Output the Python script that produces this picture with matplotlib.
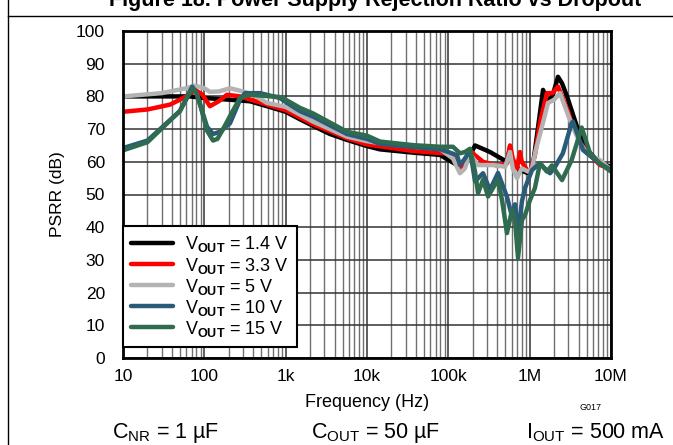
import matplotlib
matplotlib.use("Agg")
import matplotlib.pyplot as plt
from matplotlib.lines import Line2D
from matplotlib.ticker import LogLocator, FixedLocator, FixedFormatter

plt.rcParams['font.family'] = ['Liberation Sans', 'DejaVu Sans']
plt.rcParams['mathtext.fontset'] = 'custom'
plt.rcParams['mathtext.rm'] = 'Liberation Sans'
plt.rcParams['mathtext.bf'] = 'Liberation Sans:bold'

# ---------------- data ----------------
f_14 = [10, 30, 66, 100, 200, 365, 590, 1000, 1500, 2170, 3500, 5670, 10000, 14450,
        36800, 79000, 128000, 150000, 185000, 213000, 325000, 526000, 573000, 620000,
        760000, 955000, 1.09e6, 1.27e6, 1.46e6, 1.68e6, 1.9e6, 2.23e6, 2.5e6, 2.88e6,
        3.82e6, 5.07e6, 7.33e6, 10e6]
db_14 = [80, 80, 80, 79.5, 79, 78.5, 77, 75.3, 73, 71, 68.5, 66.7, 64.8, 63.8,
         62.8, 62.1, 59, 58.5, 62, 65, 63, 60, 64.5, 59.5,
         57.5, 56.5, 58.5, 70.7, 82, 78.4, 80, 86, 84, 80,
         70.7, 63.6, 59.6, 58.5]

f_33 = [10, 20, 38, 60, 77, 95, 117, 150, 190, 275, 590, 1000, 2170, 5670, 10000,
        36800, 100000, 128000, 150000, 185000, 213000, 267000, 408000, 526000, 573000,
        620000, 700000, 760000, 800000, 955000, 1.01e6, 1.16e6, 1.34e6, 1.63e6, 1.9e6,
        2.23e6, 2.5e6, 3.0e6, 3.28e6, 4.16e6, 5.07e6, 7.33e6, 10e6]
db_33 = [75.3, 76, 77.5, 80, 82, 80.5, 77, 78.5, 80.5, 80, 77.5, 75.8, 71.5, 67.2, 65.3,
         63.3, 62.5, 60, 57.5, 63.5, 62, 60, 58.8, 59.5, 65,
         61, 58, 63, 60, 57, 57, 62, 72, 81, 81,
         83, 80, 75, 71.8, 66, 63, 59, 58]

f_5 = [10, 30, 60, 77, 100, 117, 150, 207, 300, 400, 590, 1000, 2170, 5670, 10000,
       14450, 36800, 79000, 114000, 139000, 160000, 185000, 230000, 350000, 500000,
       573000, 620000, 700000, 800000, 955000, 1.07e6, 1.2e6, 1.46e6, 1.68e6, 2.0e6,
       2.36e6, 3.13e6, 4.16e6, 5.07e6, 7.33e6, 10e6]
db_5 = [80, 81, 82.5, 83.3, 82.5, 81.4, 81.5, 82.5, 81.5, 80.5, 78, 76.8, 72.3, 67.7, 66.3,
        65.7, 64.6, 63.9, 61, 56.5, 58, 62.5, 59, 59, 58.5,
        63, 58, 55, 58, 57, 58, 64, 72, 78, 79,
        81, 72.8, 65.7, 62.5, 60.5, 57.5]

f_10 = [10, 20, 50, 71, 80, 90, 108, 128, 156, 207, 275, 316, 484, 851, 1000, 1500,
        2170, 5670, 10000, 14450, 36800, 79000, 100000, 128000, 139000, 160000, 185000,
        213000, 267000, 325000, 408000, 526000, 607000, 661000, 719000, 805000, 877000,
        1.07e6, 1.34e6, 1.46e6, 1.78e6, 2.0e6, 2.56e6, 3.28e6, 3.41e6, 4.53e6, 7.33e6, 10e6]
db_10 = [64.2, 66.5, 75.5, 83, 81, 77, 70.7, 68.5, 69.2, 71.8, 79, 81, 81, 79.5, 78.3, 75.5,
         73.8, 68.5, 67, 65.5, 64.5, 63.8, 63, 62, 59, 61, 63.6,
         54, 56.5, 51.4, 56.6, 49.3, 43.2, 47, 38.2, 48, 52,
         57.5, 59.6, 58.5, 56.5, 58, 62.6, 71.8, 72.3, 63.6, 59.4, 57.5]

f_15 = [10, 20, 50, 71, 80, 90, 108, 128, 145, 170, 207, 275, 365, 851, 1000, 1500,
        2170, 5670, 10000, 14450, 36800, 79000, 114000, 139000, 160000, 185000, 213000,
        232000, 267000, 308000, 354000, 408000, 457000, 526000, 607000, 661000, 719000,
        805000, 877000, 1.01e6, 1.16e6, 1.34e6, 1.63e6, 1.88e6, 2.5e6, 3.28e6, 4.36e6,
        5.52e6, 7.33e6, 10e6]
db_15 = [63.5, 66, 75.5, 82.5, 81, 77, 69.5, 66.5, 67, 70, 74, 79.6, 80.5, 79.8, 79, 76.5,
         74.8, 69.2, 68, 66.2, 65.1, 64.6, 64.6, 62.6, 63, 64, 57,
         50.4, 54.5, 49.4, 52, 54.5, 48.3, 38.2, 45.3, 42, 30.6,
         42.2, 43.7, 48.3, 52, 59.6, 57, 58.9, 54.4, 60.5, 70.5,
         62.6, 59.5, 57]

series = [
    (f_14, db_14, '#000000', r'V$_{\mathbf{OUT}}$ = 1.4 V'),
    (f_33, db_33, '#ff0000', r'V$_{\mathbf{OUT}}$ = 3.3 V'),
    (f_5, db_5, '#b3b3b3', r'V$_{\mathbf{OUT}}$ = 5 V'),
    (f_10, db_10, '#2a5b78', r'V$_{\mathbf{OUT}}$ = 10 V'),
    (f_15, db_15, '#2f6b4f', r'V$_{\mathbf{OUT}}$ = 15 V'),
]

xticks = [10, 100, 1e3, 1e4, 1e5, 1e6, 1e7]
xticklabels = ['10', '100', '1k', '10k', '100k', '1M', '10M']
yticks = list(range(0, 101, 10))

# ---------------- figure ----------------
fig = plt.figure(figsize=(6.73, 4.45), dpi=100)
ax = fig.add_axes([123 / 673, (445 - 358) / 445, (611 - 123) / 673, (358 - 31) / 445])

for f, d, c, lab in series:
    ax.plot(f, d, color=c, lw=3.2, label=lab, solid_joinstyle='round', solid_capstyle='round')

ax.set_xscale('log')
ax.set_xlim(10, 1e7)
ax.set_ylim(0, 100)
ax.xaxis.set_major_locator(FixedLocator(xticks))
ax.xaxis.set_major_formatter(FixedFormatter(xticklabels))
ax.xaxis.set_minor_locator(LogLocator(base=10, subs=range(2, 10), numticks=20))
ax.set_yticks(yticks)

ax.grid(True, which='major', color='#333333', lw=1.1)
ax.grid(True, which='minor', axis='x', color='#707070', lw=1.0)
ax.set_axisbelow(True)

ax.tick_params(which='both', length=0)
ax.tick_params(axis='y', pad=13, labelsize=12.5)
ax.tick_params(axis='x', pad=8, labelsize=12.5)
for s in ax.spines.values():
    s.set_linewidth(2.0)
    s.set_color('black')

ax.set_xlabel('Frequency (Hz)', fontsize=13, labelpad=7)
ax.set_ylabel('PSRR (dB)', fontsize=12.5, labelpad=8)

leg = ax.legend(loc='lower left', bbox_to_anchor=(0.0, 0.034), borderaxespad=0,
                fontsize=13, frameon=True, fancybox=False, handlelength=2.3,
                handletextpad=0.7, labelspacing=0.06, borderpad=0.45)
leg.get_frame().set_edgecolor('black')
leg.get_frame().set_linewidth(1.5)
leg.get_frame().set_alpha(1)

# frame lines and texts
fig.add_artist(Line2D([8 / 673, 8 / 673], [0, 1], color='black', lw=1.0))
fig.add_artist(Line2D([8 / 673, 1], [1 - 16 / 445, 1 - 16 / 445], color='black', lw=1.0))
fig.text(375 / 673, 1 - 6 / 445, 'Figure 18. Power Supply Rejection Ratio vs Dropout',
         ha='center', va='baseline', fontsize=15.5, fontweight='bold')
fig.text(590 / 673, 1 - 408 / 445, 'G017', ha='center', va='center', fontsize=6.5)
fig.text(166 / 673, 1 - 433 / 445, r'C$_{\mathregular{NR}}$ = 1 µF', ha='center', va='center', fontsize=15.5)
fig.text(376 / 673, 1 - 433 / 445, r'C$_{\mathregular{OUT}}$ = 50 µF', ha='center', va='center', fontsize=15.5)
fig.text(596 / 673, 1 - 433 / 445, r'I$_{\mathregular{OUT}}$ = 500 mA', ha='center', va='center', fontsize=15.5)

fig.savefig('out.png', dpi=100)
